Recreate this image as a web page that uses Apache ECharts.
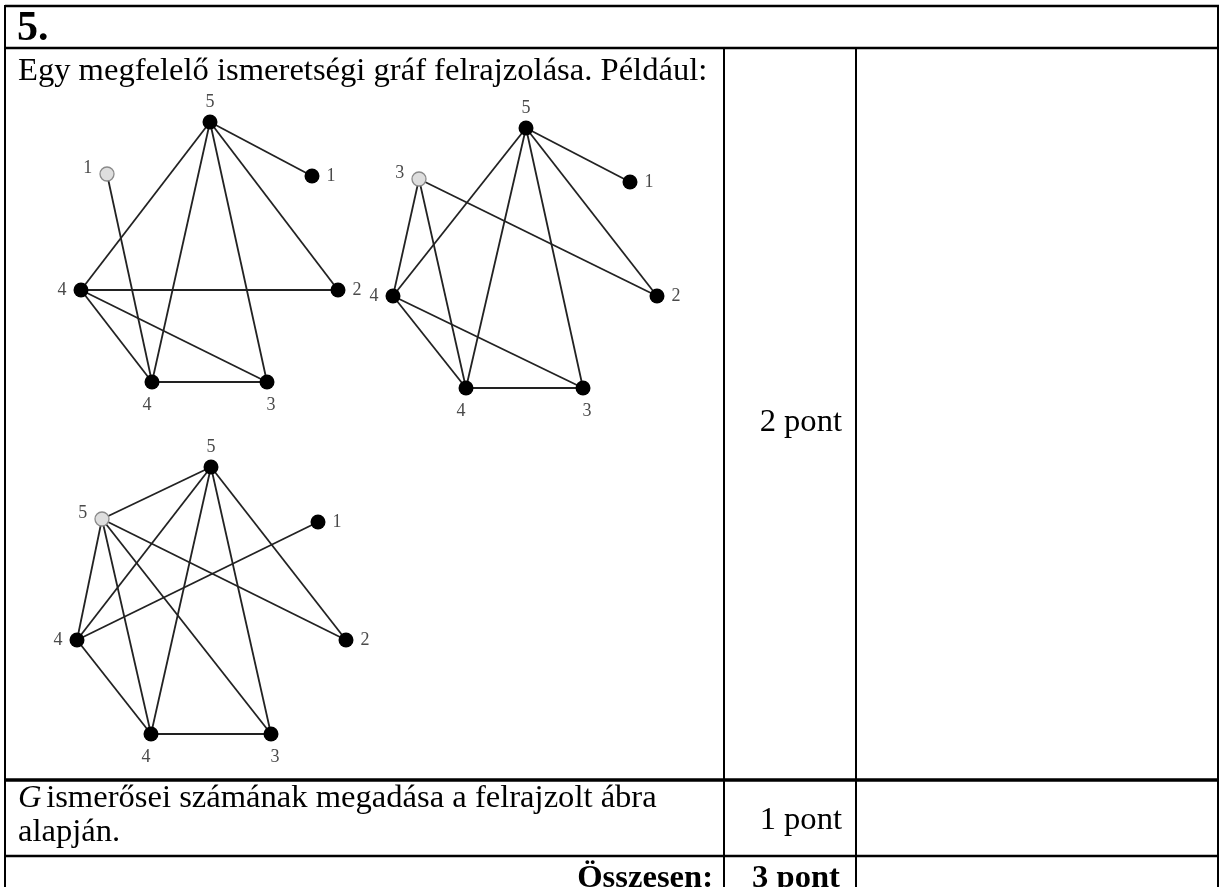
<!DOCTYPE html>
<html>
<head>
<meta charset="utf-8">
<script src="https://cdn.jsdelivr.net/npm/echarts@6/dist/echarts.min.js"></script>
<style>
  html, body { margin: 0; padding: 0; background: #fff; }
  #main { width: 1220px; height: 887px; }
</style>
</head>
<body>
<div id="main"></div>
<script>
// csúcsok sorrendje: fent, bal-fent (szürke), jobb-fent, bal-közép, jobb-közép, bal-lent, jobb-lent
// koordináták a gráf saját rácsán belül (px egység, y lefelé)
const g1X = [150, 47, 252, 21, 278, 92, 207];
const g1Y = [22, 74, 76, 190, 190, 282, 282];
const g1Labels = ['5', '1', '1', '4', '2', '4', '3'];
const g1Edges = [[0, 2], [0, 3], [0, 5], [0, 6], [0, 4], [1, 5], [3, 4], [3, 5], [3, 6], [5, 6]];

const g2X = [156, 49, 260, 23, 287, 96, 213];
const g2Y = [28, 79, 82, 196, 196, 288, 288];
const g2Labels = ['5', '3', '1', '4', '2', '4', '3'];
const g2Edges = [[0, 2], [0, 3], [0, 5], [0, 6], [0, 4], [1, 3], [1, 5], [1, 4], [3, 5], [3, 6], [5, 6]];

const g3X = [151, 42, 258, 17, 286, 91, 211];
const g3Y = [27, 79, 82, 200, 200, 294, 294];
const g3Labels = ['5', '5', '1', '4', '2', '4', '3'];
const g3Edges = [[1, 0], [0, 3], [0, 5], [0, 6], [0, 4], [2, 3], [1, 3], [1, 5], [1, 6], [1, 4], [3, 5], [5, 6]];

const greyNode = 1; // G csúcsa

// táblázat szövegei
const headTitle = '5.';
const rowText1 = 'Egy megfelelő ismeretségi gráf felrajzolása. Például:';
const rowText2a = ' ismerősei számának megadása a felrajzolt ábra';
const rowText2b = 'alapján.';
const points1 = '2 pont';
const points2 = '1 pont';
const totalLabel = 'Összesen:';
const totalPoints = '3 pont';

const chart = echarts.init(document.getElementById('main'));

// címke helyzete csúcsonként
const labelPos = [
  { position: 'top', distance: 3 },
  { position: 'left', distance: 7, offset: [0, -6] },
  { position: 'right', distance: 7 },
  { position: 'left', distance: 7 },
  { position: 'right', distance: 7 },
  { position: 'bottom', distance: 7, offset: [-5, 0] },
  { position: 'bottom', distance: 7, offset: [4, 0] }
];

function makeGraph(xs, ys, labels, edges, idx) {
  const nodes = xs.map((x, i) => {
    const grey = i === greyNode;
    return {
      name: 'n' + i,
      value: [x, ys[i]],
      symbolSize: grey ? 14 : 15,
      itemStyle: {
        color: grey ? '#dedede' : '#000',
        borderColor: grey ? '#8a8a8a' : '#000',
        borderWidth: grey ? 1.3 : 0
      },
      label: Object.assign({
        show: true,
        formatter: labels[i],
        color: '#4a4a4a',
        fontSize: 18,
        fontFamily: 'Liberation Serif'
      }, labelPos[i])
    };
  });
  const links = edges.map(e => ({ source: 'n' + e[0], target: 'n' + e[1] }));
  return {
    type: 'graph',
    coordinateSystem: 'cartesian2d',
    xAxisIndex: idx,
    yAxisIndex: idx,
    data: nodes,
    links: links,
    z: 3,
    lineStyle: { color: '#222', width: 1.8, opacity: 1, curveness: 0 },
    emphasis: { disabled: true },
    silent: true,
    animation: false
  };
}

const gridBoxes = [
  { left: 60, top: 100, width: 300, height: 320 },
  { left: 370, top: 100, width: 300, height: 320 },
  { left: 60, top: 440, width: 300, height: 320 }
];

const serif = 'Liberation Serif';

function hLine(x1, x2, y, w) {
  return { type: 'line', shape: { x1: x1, y1: y, x2: x2, y2: y }, style: { stroke: '#000', lineWidth: w } };
}
function vLine(x, y1, y2, w) {
  return { type: 'line', shape: { x1: x, y1: y1, x2: x, y2: y2 }, style: { stroke: '#000', lineWidth: w } };
}
function txt(x, y, text, font, opts) {
  return {
    type: 'text', x: x, y: y,
    style: Object.assign({ text: text, font: font + ' "' + serif + '"', fill: '#000', textVerticalAlign: 'middle' }, opts || {})
  };
}

const option = {
  animation: false,
  backgroundColor: '#fff',
  grid: gridBoxes.map(g => Object.assign({ containLabel: false }, g)),
  xAxis: gridBoxes.map((g, i) => ({ type: 'value', gridIndex: i, min: 0, max: g.width, show: false })),
  yAxis: gridBoxes.map((g, i) => ({ type: 'value', gridIndex: i, min: 0, max: g.height, inverse: true, show: false })),
  series: [
    makeGraph(g1X, g1Y, g1Labels, g1Edges, 0),
    makeGraph(g2X, g2Y, g2Labels, g2Edges, 1),
    makeGraph(g3X, g3Y, g3Labels, g3Edges, 2)
  ],
  graphic: [
    // keret és rácsvonalak
    hLine(5, 1219, 6, 2.5),
    hLine(5, 1219, 48, 2.5),
    vLine(5, 5, 887, 2),
    vLine(1218, 5, 887, 2),
    vLine(724, 48, 887, 2),
    vLine(856, 48, 887, 2),
    hLine(5, 1219, 780, 3.5),
    hLine(5, 1219, 856, 2.5),
    // szövegek
    txt(17, 29, headTitle, 'bold 42px'),
    txt(18, 71, rowText1, '32.6px'),
    txt(842, 422, points1, '32.6px', { textAlign: 'right' }),
    txt(18, 798, 'G', 'italic 32.6px'),
    txt(38, 798, rowText2a, '32.6px'),
    txt(18, 832, rowText2b, '32.6px'),
    txt(842, 820, points2, '32.6px', { textAlign: 'right' }),
    txt(713, 879, totalLabel, 'bold 32.6px', { textAlign: 'right' }),
    txt(796, 879, totalPoints, 'bold 32.6px', { textAlign: 'center' })
  ]
};

chart.setOption(option);
</script>
</body>
</html>
